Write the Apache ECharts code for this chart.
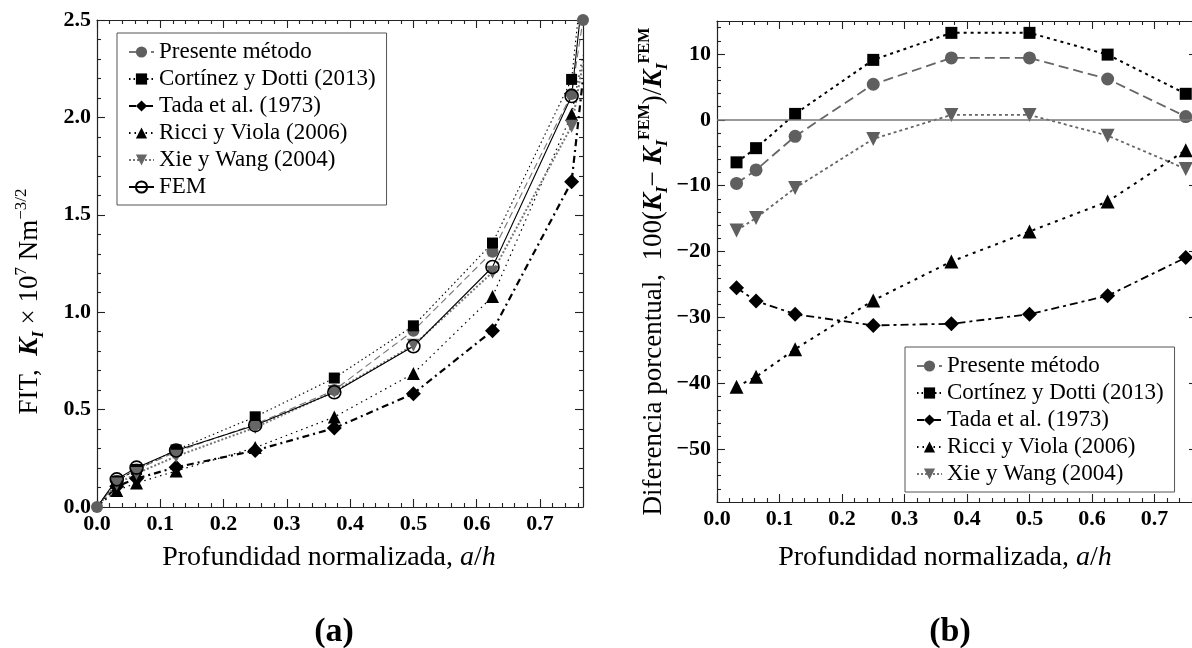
<!DOCTYPE html>
<html>
<head>
<meta charset="utf-8">
<script src="https://cdn.jsdelivr.net/npm/echarts@6/dist/echarts.min.js"></script>
<style>
  html, body { margin: 0; padding: 0; background: #fff; overflow: hidden; width: 1192px; height: 648px; }
  #chart { width: 1200px; height: 648px; }
</style>
</head>
<body>
<div id="chart"></div>
<script>
// ==============================================================
// Data
// ==============================================================
var nombres = ['Presente método', 'Cortínez y Dotti (2013)', 'Tada et al. (1973)', 'Ricci y Viola (2006)', 'Xie y Wang (2004)', 'FEM'];

// (a) FIT vs a/h  (last x is the right edge, lines leave the box there)
var xFit = [0, 0.03125, 0.0625, 0.125, 0.25, 0.375, 0.5, 0.625, 0.75, 0.768];
var fitPresente = [0, 0.135, 0.193, 0.283, 0.425, 0.60, 0.905, 1.31, 2.12, 2.5];
var fitCortinez = [0, 0.133, 0.193, 0.293, 0.463, 0.662, 0.93, 1.355, 2.195, 2.75];
var fitTada = [0, 0.106, 0.146, 0.204, 0.29, 0.405, 0.582, 0.905, 1.67, 2.2];
var fitRicci = [0, 0.085, 0.123, 0.185, 0.305, 0.462, 0.685, 1.08, 2.015, 2.32];
var fitXie = [0, 0.118, 0.172, 0.26, 0.408, 0.593, 0.83, 1.205, 1.955, 2.28];
var fitFem = [0, 0.142, 0.202, 0.29, 0.42, 0.589, 0.825, 1.232, 2.11, 2.65];

// (b) diferencia porcentual vs a/h
var xDif = [0.03125, 0.0625, 0.125, 0.25, 0.375, 0.5, 0.625, 0.75];
var difPresente = [-9.65, -7.6, -2.5, 5.4, 9.4, 9.4, 6.2, 0.5];
var difCortinez = [-6.45, -4.3, 0.9, 9.1, 13.2, 13.2, 9.9, 3.95];
var difTada = [-25.5, -27.5, -29.5, -31.2, -30.95, -29.5, -26.7, -20.9];
var difRicci = [-40.5, -39.0, -34.8, -27.4, -21.5, -16.95, -12.4, -4.6];
var difXie = [-16.8, -14.9, -10.35, -2.9, 0.75, 0.75, -2.4, -7.45];

// ticks
var xMajor = [0, 0.1, 0.2, 0.3, 0.4, 0.5, 0.6, 0.7];
var xMinor = [0.02, 0.04, 0.06, 0.08, 0.12, 0.14, 0.16, 0.18, 0.22, 0.24, 0.26, 0.28,
  0.32, 0.34, 0.36, 0.38, 0.42, 0.44, 0.46, 0.48, 0.52, 0.54, 0.56, 0.58,
  0.62, 0.64, 0.66, 0.68, 0.72, 0.74, 0.76];
var fitMajor = [0, 0.5, 1.0, 1.5, 2.0, 2.5];
var fitMinor = [0.1, 0.2, 0.3, 0.4, 0.6, 0.7, 0.8, 0.9, 1.1, 1.2, 1.3, 1.4,
  1.6, 1.7, 1.8, 1.9, 2.1, 2.2, 2.3, 2.4];
var difMajor = [-50, -40, -30, -20, -10, 0, 10];
var difMinor = [-56, -54, -52, -48, -46, -44, -42, -38, -36, -34, -32, -28, -26, -24, -22,
  -18, -16, -14, -12, -8, -6, -4, -2, 2, 4, 6, 8, 12, 14];

var serif = '"Liberation Serif", "Times New Roman", serif';

// ==============================================================
// helpers
// ==============================================================
function pares(xs, ys, sinPrimero, sinUltimo) {
  return ys.map(function (v, i) {
    var p = { value: [xs[i], v] };
    if ((sinPrimero && i === 0) || (sinUltimo && i === ys.length - 1)) p.symbol = 'none';
    return p;
  });
}

function menos(v) {
  return v < 0 ? '\u2212' + Math.abs(v) : String(v);
}

// 4 axes per side pair: main (line + labels + long ticks), minor ticks, and the mirrored pair
function ejes(grid, lado, opuesto, min, max, major, minor, fmt, extra) {
  var base = {
    gridIndex: grid, type: 'value', min: min, max: max,
    splitLine: { show: false }, animation: false
  };
  var linea = { show: true, onZero: false, lineStyle: { color: '#222', width: 1.2 } };
  var sin = { show: false, onZero: false };
  var tick = function (vals, len) {
    return { show: true, inside: true, length: len, customValues: vals, lineStyle: { color: '#222', width: 1.1 } };
  };
  var main = Object.assign({}, base, {
    position: lado, axisLine: linea, axisTick: tick(major, 8),
    axisLabel: {
      show: true, customValues: major, formatter: fmt, margin: 6,
      fontFamily: serif, fontWeight: 'bold', fontSize: 22, color: '#000'
    }
  }, extra || {});
  return [
    main,
    Object.assign({}, base, { position: lado, axisLine: sin, axisTick: tick(minor, 4), axisLabel: { show: false } }),
    Object.assign({}, base, { position: opuesto, axisLine: linea, axisTick: tick(major, 8), axisLabel: { show: false } }),
    Object.assign({}, base, { position: opuesto, axisLine: sin, axisTick: tick(minor, 4), axisLabel: { show: false } })
  ];
}

var richY = {
  n: { fontFamily: serif, fontSize: 27, lineHeight: 34, color: '#000' },
  k: { fontFamily: serif, fontSize: 27, lineHeight: 34, fontStyle: 'italic', fontWeight: 'bold', color: '#000' },
  ks: { fontFamily: serif, fontSize: 17, lineHeight: 16, fontStyle: 'italic', fontWeight: 'bold', verticalAlign: 'bottom', color: '#000' },
  sup: { fontFamily: serif, fontSize: 17, lineHeight: 16, verticalAlign: 'top', color: '#000' },
  supb: { fontFamily: serif, fontSize: 16, lineHeight: 16, fontWeight: 'bold', verticalAlign: 'top', color: '#000' }
};

var fmt1 = function (v) { return v.toFixed(1); };

var xAxes = ejes(0, 'bottom', 'top', 0, 0.768, xMajor, xMinor, fmt1)
  .concat(ejes(1, 'bottom', 'top', 0, 0.768, xMajor, xMinor, fmt1));

var yAxes = ejes(0, 'left', 'right', 0, 2.5, fitMajor, fitMinor, fmt1, {
  name: '{n|FIT,  }{k|K}{ks|I}{n| \u00d7 10}{sup|7}{n| Nm}{sup|\u22123/2}',
  nameLocation: 'middle', nameGap: 50,
  nameTextStyle: { fontFamily: serif, fontSize: 27, color: '#000', rich: richY, padding: [0, 76, 0, 0] }
}).concat(ejes(1, 'left', 'right', -58, 15, difMajor, difMinor, menos, {
  name: '{n|Diferencia porcentual,  100(}{k|K}{ks|I}{n|\u2212 }{k|K}{ks|I}{supb|FEM}{n|)/}{k|K}{ks|I}{supb|FEM}',
  nameLocation: 'middle', nameGap: 46,
  nameTextStyle: { fontFamily: serif, fontSize: 27, color: '#000', rich: richY, padding: [0, 20, 0, 0] }
}));

// ==============================================================
// series
// ==============================================================
var gris = '#5f5f5f';

function serie(nombre, grid, datos, simbolo, tam, color, linea, extra) {
  return Object.assign({
    name: nombre, type: 'line', xAxisIndex: grid * 4, yAxisIndex: grid * 4,
    data: datos, symbol: simbolo, symbolSize: tam, clip: true,
    itemStyle: { color: color }, lineStyle: linea, animation: false
  }, extra || {});
}

var series = [
  serie(nombres[0], 0, pares(xFit, fitPresente, false, false), 'circle', 12, gris,
    { color: '#777', width: 1.1, type: [7, 4] }),
  serie(nombres[1], 0, pares(xFit, fitCortinez, true, true), 'rect', 11, '#000',
    { color: '#000', width: 1.1, type: [1.5, 3] }),
  serie(nombres[2], 0, pares(xFit, fitTada, true, true), 'diamond', 15, '#000',
    { color: '#000', width: 2.2, type: [7, 4, 2, 4] }),
  serie(nombres[3], 0, pares(xFit, fitRicci, true, true), 'triangle', 13, '#000',
    { color: '#000', width: 1.2, type: [1.5, 4] }),
  serie(nombres[4], 0, pares(xFit, fitXie, true, true), 'triangle', 13, '#666',
    { color: '#777', width: 2, type: [2, 2] }, { symbolRotate: 180 }),
  serie(nombres[5], 0, pares(xFit, fitFem, true, true), 'circle', 13, 'transparent',
    { color: '#000', width: 1.1, type: 'solid' },
    { itemStyle: { color: 'rgba(0,0,0,0)', borderColor: '#000', borderWidth: 1.6 } }),

  serie(nombres[0], 1, pares(xDif, difPresente), 'circle', 13, gris,
    { color: '#666', width: 1.8, type: [10, 5] },
    {
      markLine: {
        silent: true, symbol: ['none', 'none'], label: { show: false },
        lineStyle: { color: '#777', type: 'solid', width: 1.6 },
        data: [{ yAxis: 0 }], animation: false
      }
    }),
  serie(nombres[1], 1, pares(xDif, difCortinez), 'rect', 12, '#000',
    { color: '#000', width: 2, type: [3, 4] }),
  serie(nombres[2], 1, pares(xDif, difTada), 'diamond', 15, '#000',
    { color: '#000', width: 1.8, type: [8, 4, 3, 4] }),
  serie(nombres[3], 1, pares(xDif, difRicci), 'triangle', 14, '#000',
    { color: '#000', width: 2, type: [3, 5] }),
  serie(nombres[4], 1, pares(xDif, difXie), 'triangle', 14, '#5f5f5f',
    { color: '#666', width: 1.8, type: [3, 3] }, { symbolRotate: 180 })
];

var leyenda = function (datos, left, top) {
  return {
    data: datos, orient: 'vertical', left: left, top: top,
    padding: [7, 11, 6, 11], itemGap: 3, itemWidth: 25, itemHeight: 14,
    borderColor: '#555', borderWidth: 1, backgroundColor: '#fff',
    textStyle: { fontFamily: serif, fontSize: 23, lineHeight: 24, color: '#000' },
    selectedMode: false
  };
};

var richX = {
  n: { fontFamily: serif, fontSize: 28, color: '#000' },
  i: { fontFamily: serif, fontSize: 28, fontStyle: 'italic', color: '#000' }
};
var tituloX = '{n|Profundidad normalizada, }{i|a}{n|/}{i|h}';

var option = {
  backgroundColor: '#fff',
  animation: false,
  grid: [
    { left: 97, top: 20, width: 486, height: 487, containLabel: false, outerBoundsMode: 'none' },
    { left: 717, top: 21, width: 480, height: 481, containLabel: false, outerBoundsMode: 'none' }
  ],
  xAxis: xAxes,
  yAxis: yAxes,
  legend: [
    leyenda(nombres, 117, 33),
    leyenda(nombres.slice(0, 5), 905, 347)
  ],
  graphic: [
    { type: 'text', x: 329, y: 558, style: { text: tituloX, rich: richX, align: 'center', verticalAlign: 'middle', fill: '#000' } },
    { type: 'text', x: 945, y: 558, style: { text: tituloX, rich: richX, align: 'center', verticalAlign: 'middle', fill: '#000' } },
    { type: 'text', x: 334, y: 632, style: { text: '(a)', fontFamily: serif, fontSize: 34, fontWeight: 'bold', align: 'center', verticalAlign: 'middle', fill: '#000' } },
    { type: 'text', x: 950, y: 632, style: { text: '(b)', fontFamily: serif, fontSize: 34, fontWeight: 'bold', align: 'center', verticalAlign: 'middle', fill: '#000' } }
  ],
  series: series
};

var myChart = echarts.init(document.getElementById('chart'), null, { renderer: 'canvas' });
myChart.setOption(option);
</script>
</body>
</html>
